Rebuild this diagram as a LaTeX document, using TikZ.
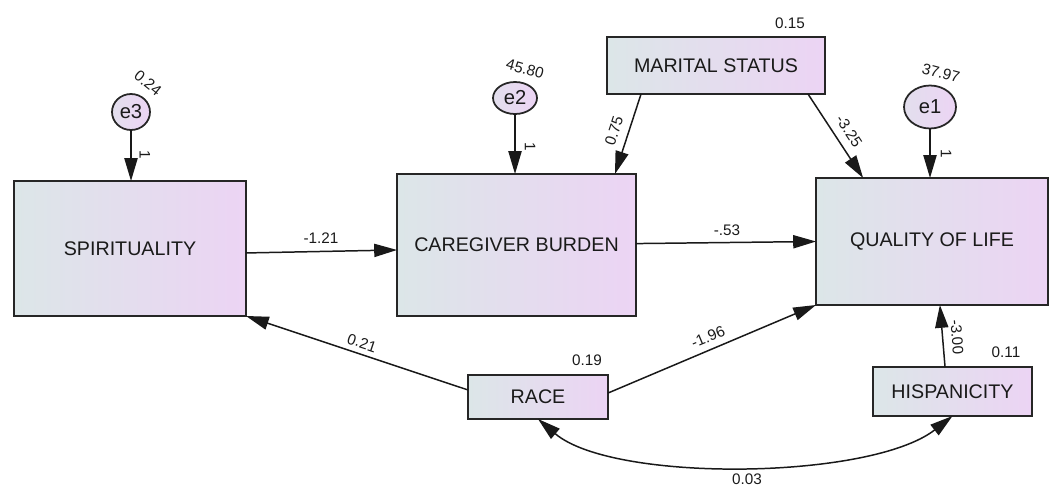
\documentclass[tikz,border=0pt]{standalone}
\usepackage{fontspec}
\setmainfont{Liberation Sans}
\usetikzlibrary{arrows.meta,calc,shapes.geometric}
\definecolor{gl}{HTML}{DCE6E8}
\definecolor{gr}{HTML}{ECD4F4}
\definecolor{txt}{HTML}{1A1A1A}
\tikzset{
  var/.style={rectangle, draw=black!85, line width=1.1pt, left color=gl, right color=gr,
    outer sep=0pt, inner sep=0pt, text=txt, font=\fontsize{11.2}{12}\selectfont},
  err/.style={ellipse, draw=black!85, line width=1pt, left color=gl!60!gr, right color=gr,
    outer sep=0pt, inner sep=0pt, text=txt, font=\fontsize{11.5}{12}\selectfont},
  conn/.style={line width=0.85pt, draw=black!90, -{Triangle[length=13pt,width=7.5pt]}},
  biconn/.style={line width=0.85pt, draw=black!90, {Triangle[length=13pt,width=7.5pt]}-{Triangle[length=13pt,width=7.5pt]}},
  lab/.style={inner sep=0pt, text=txt, font=\fontsize{8.7}{10}\selectfont},
}
\begin{document}
\begin{tikzpicture}[x=0.02cm,y=-0.02cm]
\useasboundingbox (0,0) rectangle (1053,497);
% variables
\node[var, minimum width=4.64cm, minimum height=2.70cm] (spir) at (130,248.5) {SPIRITUALITY};
\node[var, minimum width=4.78cm, minimum height=2.84cm] (care) at (516.5,245) {CAREGIVER BURDEN};
\node[var, minimum width=4.36cm, minimum height=1.14cm] (mar) at (716,65.5) {MARITAL STATUS};
\node[var, minimum width=4.64cm, minimum height=2.54cm] (qol) at (932,241.5) {QUALITY OF LIFE};
\node[var, minimum width=2.80cm, minimum height=0.88cm] (race) at (538,397) {RACE};
\node[var, minimum width=3.18cm, minimum height=0.98cm] (hisp) at (952.5,391.5) {HISPANICITY};
% error terms
\node[err, minimum width=0.76cm, minimum height=0.72cm] (e3) at (131,112) {e3};
\node[err, minimum width=0.88cm, minimum height=0.64cm] (e2) at (515,98) {e2};
\node[err, minimum width=1.04cm, minimum height=0.86cm] (e1) at (930,107) {e1};
% connectors
\draw[conn] (e3.south) -- (e3.south |- spir.north);
\draw[conn] (e2.south) -- (e2.south |- care.north);
\draw[conn] (e1.south) -- (e1.south |- qol.north);
\draw[conn] ($(spir.north east)!0.533!(spir.south east)$) -- ($(care.north west)!0.535!(care.south west)$);
\draw[conn] ($(care.north east)!0.49!(care.south east)$) -- ($(qol.north west)!0.50!(qol.south west)$);
\draw[conn] ($(mar.south west)!0.156!(mar.south east)$) -- ($(care.north west)!0.912!(care.north east)$);
\draw[conn] ($(mar.south west)!0.922!(mar.south east)$) -- ($(qol.north west)!0.203!(qol.north east)$);
\draw[conn] ($(race.north west)!0.34!(race.south west)$) -- (spir.south east);
\draw[conn] ($(race.north east)!0.41!(race.south east)$) -- (qol.south west);
\draw[conn] ($(hisp.north west)!0.453!(hisp.north east)$) -- ($(qol.south west)!0.534!(qol.south east)$);
\draw[biconn] (race.south) .. controls +(75,64) and +(-82,64) .. (hisp.south);
% labels
\node[lab, rotate=-39] (l1) at (148,83) {0.24};
\node[lab, rotate=-16] (l2) at (525,69) {45.80};
\node[lab, rotate=-15] (l3) at (941,73) {37.97};
\node[lab, rotate=-90] (l4) at (145,155) {1};
\node[lab, rotate=-90] (l5) at (530,147) {1};
\node[lab, rotate=-90] (l6) at (946,154) {1};
\node[lab, rotate=72] (l7) at (614,131) {0.75};
\node[lab, rotate=-56.5] (l8) at (849,131) {-3.25};
\node[lab] (l9) at (790,23) {0.15};
\node[lab] (l10) at (321,238) {-1.21};
\node[lab] (l11) at (727,230) {-.53};
\node[lab, rotate=-18.4] (l12) at (362,343) {0.21};
\node[lab, rotate=22.7] (l13) at (708,337) {-1.96};
\node[lab] (l14) at (587,360) {0.19};
\node[lab, rotate=-85.4] (l15) at (957,337) {-3.00};
\node[lab] (l16) at (1006,352) {0.11};
\node[lab] (l17) at (747,479) {0.03};
\end{tikzpicture}
\end{document}
